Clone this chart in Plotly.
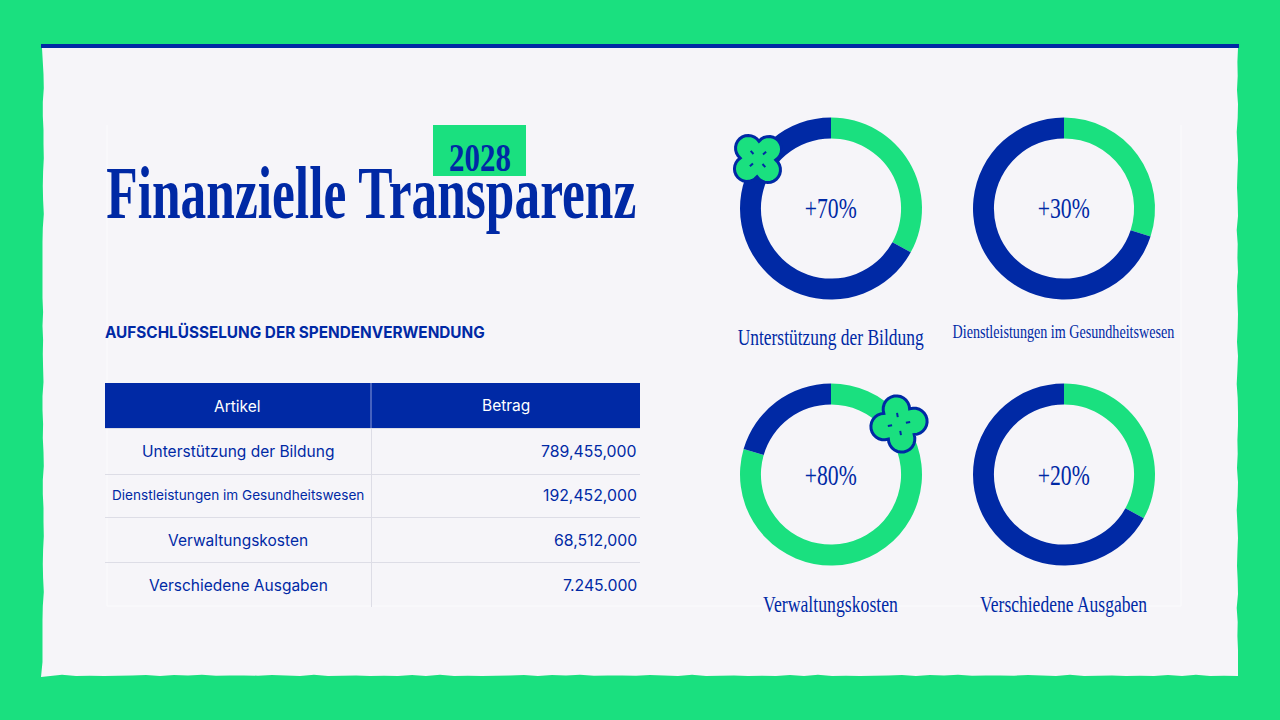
import math
import plotly.graph_objects as go

W, H = 1280, 720
GREEN = "#1AE07F"
BLUE = "#0029A5"
PANEL = "#F6F5F9"
GRID = "#DDDDE6"
HEADLINE = "#8C9BD8"
SERIF = "Liberation Serif"
SANS = "Inter"

donut_names = ["Unterstützung der Bildung", "Dienstleistungen im Gesundheitswesen",
               "Verwaltungskosten", "Verschiedene Ausgaben"]
donut_labels = ["+70%", "+30%", "+80%", "+20%"]
donut_green = [33, 30, 79.5, 33]
donut_blue = [67, 70, 20.5, 67]
donut_cx = [831, 1064, 831, 1064]
donut_cy = [208.5, 208.5, 474.5, 474.5]

table_head = ["Artikel", "Betrag"]
table_items = ["Unterstützung der Bildung", "Dienstleistungen im Gesundheitswesen",
               "Verwaltungskosten", "Verschiedene Ausgaben"]
table_amounts = ["789,455,000", "192,452,000", "68,512,000", "7.245.000"]
table_item_sizes = [15.5, 13.6, 15.5, 15.5]
table_row_y = [451, 495, 540, 585]
table_rule_y = [428.5, 474.5, 517.5, 562.5]

# hand-read wobble of the torn paper edge, px inward
edge_wobble = [0, 0.6, 0.3, 1, 0, 0.3, 1.3, 0.6, 0, 0.6, 1, 0.3, 0, 1.3, 0.3, 0.6, 0, 1, 0.6, 0, 0.3, 1, 0, 0.6, 1.3, 0.3, 0]


def fx(x):
    return x / W


def fy(y):
    return 1 - y / H


def P(x, y):
    return f"{fx(x):.5f},{fy(y):.5f}"


def panel_path():
    pts = [(42, 48), (1238, 48)]
    step = 14
    n = len(edge_wobble)
    for i in range(1, 628 // step):
        pts.append((1238 - edge_wobble[i % n], 48 + i * step))
    pts.append((1238, 676))
    for i in range(1, 1196 // step):
        pts.append((1238 - i * step, 676 - edge_wobble[(i * 2) % n]))
    pts.append((41, 677))
    for i in range(1, 628 // step):
        pts.append((42.5 + edge_wobble[(i * 4) % n], 676 - i * step))
    return "M" + "L".join(P(*p) for p in pts) + "Z"


def clover(cx, cy, r, rot):
    """Outer outline of four overlapping round lobes."""
    ctr, rho = 0.56 * r, 0.49 * r
    half = ctr * math.sqrt(2) / 2
    off = math.sqrt(rho ** 2 - half ** 2)
    outer = half + off
    pts = []
    for k in range(4):
        a = 90 * k + rot
        lx, ly = cx + ctr * math.cos(math.radians(a)), cy + ctr * math.sin(math.radians(a))
        n0 = (cx + outer * math.cos(math.radians(a - 45)), cy + outer * math.sin(math.radians(a - 45)))
        n1 = (cx + outer * math.cos(math.radians(a + 45)), cy + outer * math.sin(math.radians(a + 45)))
        t0 = math.atan2(n0[1] - ly, n0[0] - lx)
        t1 = math.atan2(n1[1] - ly, n1[0] - lx)
        if t1 < t0:
            t1 += 2 * math.pi
        for j in range(15):
            t = t0 + (t1 - t0) * j / 14
            pts.append((lx + rho * math.cos(t), ly + rho * math.sin(t)))
    return "M" + "L".join(P(*p) for p in pts) + "Z"


def dash(cx, cy, r, deg):
    a = math.radians(deg)
    x0, y0 = cx + 0.26 * r * math.cos(a), cy + 0.26 * r * math.sin(a)
    x1, y1 = cx + 0.42 * r * math.cos(a), cy + 0.42 * r * math.sin(a)
    return f"M{P(x0, y0)}L{P(x1, y1)}"


fig = go.Figure()

for i in range(4):
    cx, cy = donut_cx[i], donut_cy[i]
    fig.add_trace(go.Pie(
        values=[donut_green[i], donut_blue[i]],
        labels=["Anteil", "Rest"],
        sort=False, direction="clockwise", rotation=0, hole=0.77,
        marker=dict(colors=[GREEN, BLUE], line=dict(width=0)),
        textinfo="none", showlegend=False, hoverinfo="skip",
        domain=dict(x=[fx(cx - 91), fx(cx + 91)], y=[fy(cy + 91), fy(cy - 91)]),
    ))


def rect(x0, y0, x1, y1, fill, layer="below"):
    return dict(type="rect", xref="paper", yref="paper", x0=fx(x0), x1=fx(x1), y0=fy(y1), y1=fy(y0),
                fillcolor=fill, line=dict(width=0), layer=layer)


def rule(x0, y0, x1, y1, color, width=1):
    return dict(type="line", xref="paper", yref="paper", x0=fx(x0), x1=fx(x1), y0=fy(y0), y1=fy(y1),
                line=dict(color=color, width=width), layer="below")


shapes = [
    dict(type="path", xref="paper", yref="paper", path=panel_path(),
         fillcolor=PANEL, line=dict(width=0), layer="below"),
    rect(41, 44, 1239, 48, BLUE),
    rect(433, 125, 526, 176, GREEN),
    rule(107, 125, 107, 606, "#FBFBFD"),
    rule(1181, 125, 1181, 606, "#FBFBFD"),
    rule(107, 606, 1181, 606, "#FBFBFD"),
    rect(105, 383, 640, 428, BLUE),
    rule(371, 383, 371, 428, HEADLINE, 1),
    rule(371.5, 428, 371.5, 607, GRID, 1),
]
for y in table_rule_y:
    shapes.append(rule(105, y, 640, y, GRID))
for cx, cy, r, rot in [(758, 159, 26, 48), (899, 424, 27, -10)]:
    shapes.append(dict(type="path", xref="paper", yref="paper", path=clover(cx, cy, r, rot),
                       fillcolor=GREEN, line=dict(color=BLUE, width=3), layer="above"))
    for k in range(4):
        shapes.append(dict(type="path", xref="paper", yref="paper", path=dash(cx, cy, r, rot + 90 * k),
                           line=dict(color=BLUE, width=2), layer="above"))


def note(text, x, y, size, family, weight=None, color=BLUE, anchor="center"):
    font = dict(family=family, size=size, color=color)
    if weight:
        font["weight"] = weight
    return dict(text=text, x=fx(x), y=fy(y), xref="paper", yref="paper", showarrow=False,
                xanchor=anchor, yanchor="middle", font=font)


annotations = [
    note("2028", 480, 157, 41, SERIF, 700),
    note("Finanzielle Transparenz", 371, 193, 74, SERIF, 700),
    note("AUFSCHLÜSSELUNG DER SPENDENVERWENDUNG", 294.5, 332, 15.3, SANS, 700),
    note(table_head[0], 237.5, 406, 15.5, SANS, color="#FFFFFF"),
    note(table_head[1], 505.5, 405, 15.5, SANS, color="#FFFFFF"),
]
for i in range(4):
    annotations.append(note(table_items[i], 238, table_row_y[i], table_item_sizes[i], SANS))
    annotations.append(note(table_amounts[i], 639, table_row_y[i], 15.8, SANS, anchor="right"))

label_sizes = [23, 18.5, 23, 23]
label_y = [337, 332, 604, 604]
label_x = [831, 1063, 831, 1064]
for i in range(4):
    annotations.append(note(donut_labels[i], donut_cx[i], donut_cy[i], 29, SERIF))
    annotations.append(note(donut_names[i], label_x[i], label_y[i], label_sizes[i], SERIF))

fig.update_layout(
    width=W, height=H, margin=dict(l=0, r=0, t=0, b=0),
    paper_bgcolor=GREEN, plot_bgcolor=GREEN,
    shapes=shapes, annotations=annotations,
)

# The reference typeface is a condensed serif: squeeze each serif text to its measured width.
condensed_widths = {
    "2028": 62, "Finanzielle Transparenz": 530,
    "+70%": 52, "+30%": 52, "+80%": 52, "+20%": 52,
    "Unterstützung der Bildung": 186, "Dienstleistungen im Gesundheitswesen": 222,
    "Verwaltungskosten": 135, "Verschiedene Ausgaben": 167,
}
post = """
document.body.style.margin = '0';
document.documentElement.style.overflow = 'hidden';
var w = %s;
function fit(){
  document.querySelectorAll('.annotation-text').forEach(function(t){
    var v = w[t.textContent];
    if (!v || t.style.fontFamily.indexOf('Serif') < 0) { return; }
    var x = parseFloat(t.getAttribute('x')) || 0;
    var sx = v / t.getComputedTextLength();
    t.setAttribute('transform', 'translate(' + x + ',0) scale(' + sx + ',1) translate(' + (-x) + ',0)');
  });
}
fit();
""" % str(condensed_widths)

fig.write_html("out.html", post_script=post, config={"displayModeBar": False})
